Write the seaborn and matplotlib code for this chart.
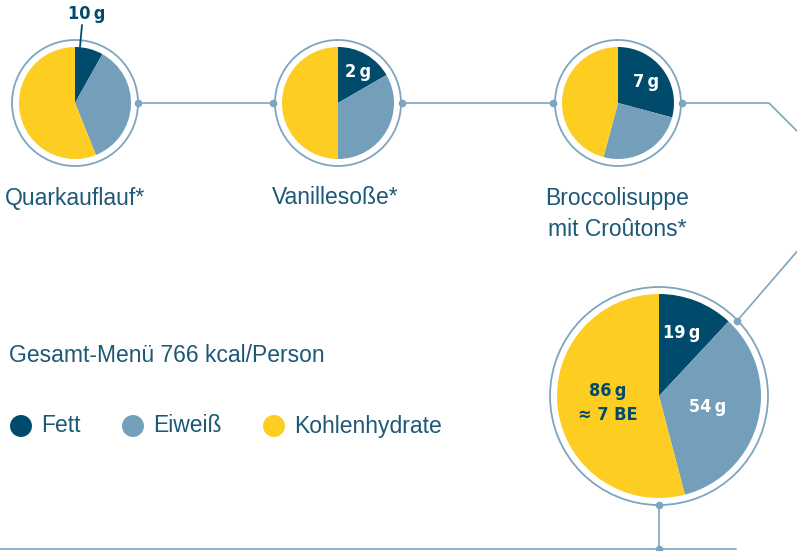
import matplotlib
matplotlib.use('Agg')
import matplotlib.pyplot as plt
from matplotlib.patches import Circle
import pandas as pd
import seaborn as sns

# data: grams per dish (Fett, Eiweiß, Kohlenhydrate)
nutrients = ['Fett', 'Eiweiß', 'Kohlenhydrate']
quarkauflauf = [10, 44, 69]
vanillesosse = [2, 4, 6]
broccolisuppe = [7, 6, 11]
gesamt = [19, 54, 86]
dish_names = [['Quarkauflauf*'], ['Vanillesoße*'], ['Broccolisuppe', 'mit Croûtons*']]
title_text = 'Gesamt-Menü 766 kcal/Person'
be_text = '≈ 7 BE'

colors = ['#004a6b', '#739fba', '#fecd21']
ring_col = '#7ea5c0'
text_col = '#1d5877'

sns.set_style('white')
plt.rcParams['font.family'] = ['Liberation Sans', 'DejaVu Sans']
bold_fam = ['DejaVu Sans']

W, H = 797, 551
fig = plt.figure(figsize=(W / 100, H / 100), dpi=100)
ax = fig.add_axes([0, 0, 1, 1])


def Y(py):
    # pixel row -> data y
    return H - py


def grams(v):
    return f'{v}\u2009g'


def draw_pie(vals, cx, cy, r, ring):
    ax.pie(vals, colors=colors, startangle=90, counterclock=False,
           center=(cx, Y(cy)), radius=r, frame=True,
           wedgeprops=dict(linewidth=0))
    ax.add_patch(Circle((cx, Y(cy)), ring, fill=False, ec=ring_col, lw=1.3))


def dot(x, y):
    ax.plot(x, Y(y), 'o', color=ring_col, ms=4.5, zorder=5)


def seg(xs, ys):
    ax.plot(xs, [Y(v) for v in ys], color=ring_col, lw=1.2, zorder=1)


# connectors
seg([138, 273], [103, 103])
seg([402, 553], [103, 103])
seg([682, 769, 800], [103, 103, 134])
seg([800, 737], [248, 321])
seg([659, 659], [505, 549])
seg([0, 736], [549, 549])
for x, y in [(138, 103), (273, 103), (402, 103), (553, 103), (682, 103),
             (737, 321), (659, 505), (659, 549)]:
    dot(x, y)

# pies
draw_pie(quarkauflauf, 75, 103, 56, 63)
draw_pie(vanillesosse, 338, 103, 56, 63)
draw_pie(broccolisuppe, 618, 103, 56, 63)
draw_pie(gesamt, 659, 396, 102, 109)

# labels in pies
lab = dict(family=bold_fam, weight='bold', stretch='condensed',
           ha='center', va='center', fontsize=13)
ax.text(87, Y(14), grams(quarkauflauf[0]), color=colors[0], **lab)
ax.plot([82, 80], [Y(25), Y(47)], color=colors[0], lw=1.3)
ax.text(358, Y(72), grams(vanillesosse[0]), color='white', **lab)
ax.text(646, Y(82), grams(broccolisuppe[0]), color='white', **lab)
ax.text(682, Y(333), grams(gesamt[0]), color='white', **lab)
ax.text(708, Y(407), grams(gesamt[1]), color='white', **lab)
ax.text(608, Y(391), grams(gesamt[2]), color=colors[0], **lab)
ax.text(608, Y(415), be_text, color=colors[0], **lab)

# dish names
for x, lines in zip([75, 335, 617], dish_names):
    for i, line in enumerate(lines):
        ax.text(x, Y(198 + 32 * i), line, color=text_col, fontsize=16.5,
                ha='center', va='center')

ax.text(9, Y(355), title_text, color=text_col, fontsize=16.5, ha='left', va='center')

# legend dots
leg = pd.DataFrame({'x': [21, 133, 274], 'y': [Y(426)] * 3, 'n': nutrients})
sns.scatterplot(data=leg, x='x', y='y', hue='n', palette=colors, s=250,
                linewidth=0, legend=False, ax=ax)
for x, n in zip([41, 153, 294], nutrients):
    ax.text(x, Y(426), n, color=text_col, fontsize=16.5, ha='left', va='center')

ax.set_xlim(0, W)
ax.set_ylim(0, H)
ax.set_aspect('equal')
ax.axis('off')
fig.savefig('out.png', dpi=100)
